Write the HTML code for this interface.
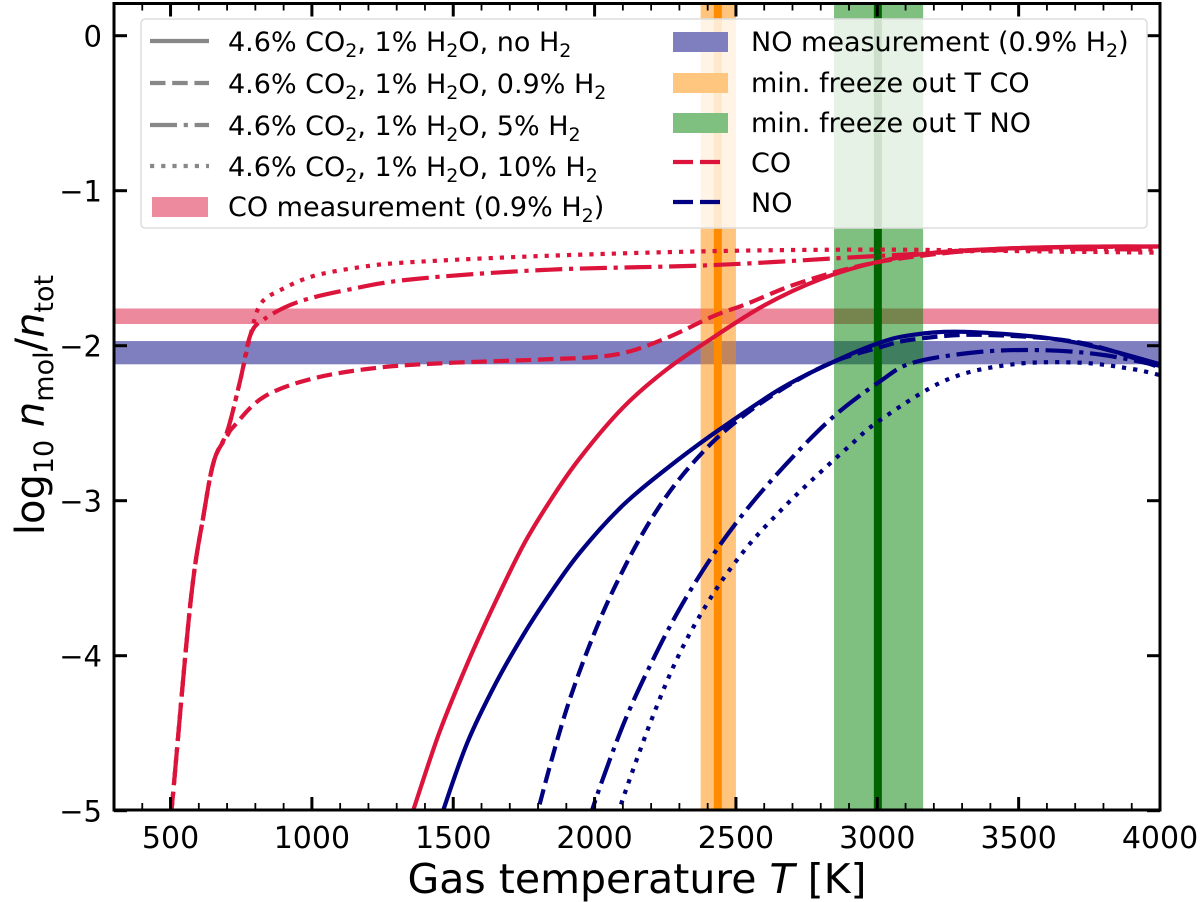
<!DOCTYPE html>
<html><head><meta charset="utf-8"><style>
body{margin:0;background:#fff;}
svg{display:block;font-family:"DejaVu Sans","Liberation Sans",sans-serif;}
</style></head><body>
<svg id="chart" width="1200" height="902" viewBox="0 0 1200 902">
<defs><clipPath id="plotclip"><rect x="114" y="3.5" width="1046" height="806.5"/></clipPath></defs>
<g id="bands" clip-path="url(#plotclip)"></g>
<g id="curves" clip-path="url(#plotclip)"></g>
<g id="axes"></g>
</svg>
<script>
// ---- data ----
const xTicks = [500,1000,1500,2000,2500,3000,3500,4000];
const yTicks = [0,-1,-2,-3,-4,-5];
const coMeas = [-1.86,-1.76];
const noMeas = [-2.12,-1.97];
const coFreezeBand = [2375,2500];
const coFreezeT = 2436;
const noFreezeBand = [2847,3162];
const noFreezeT = 3002;
// CO curves: [T, log10 n]
const coNoH2T = [1330,1358,1450,1550,1650,1750,1850,1950,2100,2250,2400,2600,2800,3000,3200,3500,3800,4000];
const coNoH2V = [-5.16,-5.0,-4.5,-4.05,-3.65,-3.28,-2.98,-2.72,-2.4,-2.16,-1.97,-1.74,-1.57,-1.46,-1.40,-1.37,-1.36,-1.36];
const co09T = [495,506,571,618,654,701,724,830,1007,1243,1500,1800,2065,2242,2419,2539,2716,2950,3200,3500,4000];
const co09V = [-5.1,-4.95,-3.65,-3.08,-2.74,-2.58,-2.52,-2.33,-2.21,-2.14,-2.11,-2.09,-2.06,-1.96,-1.81,-1.73,-1.60,-1.48,-1.41,-1.37,-1.36];
const co5T = [495,506,571,618,654,701,748,783,830,948,1125,1361,1832,2419,3010,3500,4000];
const co5V = [-5.1,-4.95,-3.65,-3.08,-2.74,-2.55,-2.21,-1.93,-1.83,-1.72,-1.64,-1.57,-1.51,-1.48,-1.42,-1.38,-1.38];
const co10T = [495,506,571,618,654,701,748,783,819,890,1007,1184,1361,1832,2419,3000,3500,4000];
const co10V = [-5.1,-4.95,-3.65,-3.08,-2.74,-2.55,-2.21,-1.93,-1.73,-1.64,-1.55,-1.49,-1.46,-1.42,-1.39,-1.38,-1.39,-1.40];
// NO curves
const noNoH2T = [1430,1464,1550,1650,1750,1850,1950,2100,2250,2419,2656,2850,3010,3126,3303,3600,3800,4000];
const noNoH2V = [-5.2,-5.0,-4.56,-4.18,-3.86,-3.58,-3.33,-3.03,-2.8,-2.57,-2.28,-2.10,-1.98,-1.93,-1.91,-1.95,-2.02,-2.12];
const no09T = [1795,1807,1900,2000,2100,2200,2300,2419,2550,2700,2850,3010,3126,3363,3717,4000];
const no09V = [-5.1,-4.95,-4.35,-3.85,-3.45,-3.12,-2.86,-2.62,-2.42,-2.24,-2.10,-2.01,-1.96,-1.93,-1.98,-2.14];
const no5T = [1985,1994,2100,2200,2300,2419,2550,2700,2850,3010,3126,3363,3600,3800,4000];
const no5V = [-5.1,-4.98,-4.45,-4.05,-3.7,-3.35,-3.03,-2.72,-2.45,-2.23,-2.11,-2.04,-2.03,-2.06,-2.13];
const no10T = [2080,2090,2200,2302,2420,2539,2660,2773,2900,3010,3246,3480,3717,3900,4000];
const no10V = [-5.1,-4.98,-4.42,-3.98,-3.6,-3.3,-3.06,-2.86,-2.65,-2.48,-2.22,-2.12,-2.11,-2.15,-2.19];

// ---- scales ----
const X0=114, X1=1160, Y0=35.7, YU=155;
function xs(t){return X0+(t-300)*(X1-X0)/3700;}
function ys(v){return Y0-v*YU;}
const NS='http://www.w3.org/2000/svg';
function mk(tag,attrs,parent){const e=document.createElementNS(NS,tag);for(const k in attrs)e.setAttribute(k,attrs[k]);parent.appendChild(e);return e;}

const bands=document.getElementById('bands');
let r;
r=mk('rect',{x:X0,y:ys(coMeas[1]),width:X1-X0,height:ys(coMeas[0])-ys(coMeas[1]),fill:'#dc143c','fill-opacity':0.5},bands);


r=mk('rect',{x:X0,y:ys(noMeas[1]),width:X1-X0,height:ys(noMeas[0])-ys(noMeas[1]),fill:'#000080','fill-opacity':0.5},bands);


r=mk('rect',{x:xs(coFreezeBand[0]),y:0,width:xs(coFreezeBand[1])-xs(coFreezeBand[0]),height:902,fill:'#ff8c00','fill-opacity':0.5},bands);


r=mk('rect',{x:xs(noFreezeBand[0]),y:0,width:xs(noFreezeBand[1])-xs(noFreezeBand[0]),height:902,fill:'#008000','fill-opacity':0.5},bands);


r=mk('line',{x1:xs(coFreezeT),x2:xs(coFreezeT),y1:0,y2:902,stroke:'#ff8c00','stroke-width':8},bands);


r=mk('line',{x1:xs(noFreezeT),x2:xs(noFreezeT),y1:0,y2:902,stroke:'#006400','stroke-width':8},bands);



const LW=4.2;
const DASH={solid:'',dashed:'15.5,6.7',dashdot:'27,6.7,4.2,6.7',dotted:'4.2,7'};
const curves=document.getElementById('curves');
function curve(T,V,color,style,name){
  const P=T.map((t,i)=>[xs(t),ys(V[i])]);
  let d='M'+P[0][0].toFixed(1)+','+P[0][1].toFixed(1);
  for(let i=0;i<P.length-1;i++){
    const p0=P[Math.max(0,i-1)],p1=P[i],p2=P[i+1],p3=P[Math.min(P.length-1,i+2)];
    const c1=[p1[0]+(p2[0]-p0[0])/6,p1[1]+(p2[1]-p0[1])/6];
    const c2=[p2[0]-(p3[0]-p1[0])/6,p2[1]-(p3[1]-p1[1])/6];
    d+='C'+c1[0].toFixed(1)+','+c1[1].toFixed(1)+' '+c2[0].toFixed(1)+','+c2[1].toFixed(1)+' '+p2[0].toFixed(1)+','+p2[1].toFixed(1);
  }
  const p=mk('path',{d:d,fill:'none',stroke:color,'stroke-width':LW,'stroke-linejoin':'round'},curves);
  if(DASH[style])p.setAttribute('stroke-dasharray',DASH[style]);
  
  
}
curve(coNoH2T,coNoH2V,'#dc143c','solid','co-curve-no-h2');
curve(co09T,co09V,'#dc143c','dashed','co-curve-0.9-h2');
curve(co5T,co5V,'#dc143c','dashdot','co-curve-5-h2');
curve(co10T,co10V,'#dc143c','dotted','co-curve-10-h2');
curve(noNoH2T,noNoH2V,'#000080','solid','no-curve-no-h2');
curve(no09T,no09V,'#000080','dashed','no-curve-0.9-h2');
curve(no5T,no5V,'#000080','dashdot','no-curve-5-h2');
curve(no10T,no10V,'#000080','dotted','no-curve-10-h2');

// ---- axes ----
const axes=document.getElementById('axes');
const YT=3.5, YB=810;
let e=mk('rect',{x:X0,y:YT,width:X1-X0,height:YB-YT,fill:'none',stroke:'#000','stroke-width':3},axes);


for(let t=400;t<=4000;t+=100){
  const major=xTicks.indexOf(t)>=0;const L=major?13:7;const x=xs(t);
  mk('line',{x1:x,x2:x,y1:YB,y2:YB-L,stroke:'#000','stroke-width':major?3:1.8},axes);
  mk('line',{x1:x,x2:x,y1:YT,y2:YT+L,stroke:'#000','stroke-width':major?3:1.8},axes);
}
xTicks.forEach(t=>{
  const tx=mk('text',{x:xs(t),y:848,'text-anchor':'middle','font-size':30,fill:'#000'},axes);
  tx.textContent=t;
  
  
});
yTicks.forEach(v=>{
  const y=ys(v);
  mk('line',{x1:X0,x2:X0+13,y1:y,y2:y,stroke:'#000','stroke-width':3},axes);
  mk('line',{x1:X1,x2:X1-13,y1:y,y2:y,stroke:'#000','stroke-width':3},axes);
  const tx=mk('text',{x:102,y:y+11,'text-anchor':'end','font-size':29,fill:'#000'},axes);
  tx.textContent=v<0?'\u2212'+(-v):String(v);
  
  
});
</script>
<svg style="position:absolute;left:0;top:0" width="1200" height="902" font-family="DejaVu Sans,Liberation Sans,sans-serif">
<text x="637" y="893" text-anchor="middle" font-size="41">Gas temperature <tspan font-style="italic">T</tspan> [K]</text>
<text transform="translate(44,405) rotate(-90)" text-anchor="middle" font-size="40">log<tspan font-size="27" dy="9">10</tspan><tspan dy="-9"> </tspan><tspan font-style="italic">n</tspan><tspan font-size="27" dy="9">mol</tspan><tspan dy="-9">/</tspan><tspan font-style="italic">n</tspan><tspan font-size="27" dy="9">tot</tspan></text>
<g>
<rect x="141" y="19" width="1006" height="209" rx="4" fill="#fff" fill-opacity="0.8" stroke="#ddd" stroke-width="1.5"/>
<g font-size="27" fill="#000">
<g><line x1="150" x2="209" y1="41" y2="41" stroke="#888" stroke-width="4.2"/><text x="228" y="51">4.6% CO<tspan font-size="19" dy="6">2</tspan><tspan dy="-6">, 1% H</tspan><tspan font-size="19" dy="6">2</tspan><tspan dy="-6">O, no H</tspan><tspan font-size="19" dy="6">2</tspan></text></g>
<g><line x1="150" x2="209" y1="83" y2="83" stroke="#888" stroke-width="4.2" stroke-dasharray="15.5,6.7"/><text x="228" y="93">4.6% CO<tspan font-size="19" dy="6">2</tspan><tspan dy="-6">, 1% H</tspan><tspan font-size="19" dy="6">2</tspan><tspan dy="-6">O, 0.9% H</tspan><tspan font-size="19" dy="6">2</tspan></text></g>
<g><line x1="150" x2="209" y1="125" y2="125" stroke="#888" stroke-width="4.2" stroke-dasharray="27,6.7,4.2,6.7"/><text x="228" y="135">4.6% CO<tspan font-size="19" dy="6">2</tspan><tspan dy="-6">, 1% H</tspan><tspan font-size="19" dy="6">2</tspan><tspan dy="-6">O, 5% H</tspan><tspan font-size="19" dy="6">2</tspan></text></g>
<g><line x1="150" x2="209" y1="166" y2="166" stroke="#888" stroke-width="4.2" stroke-dasharray="4.2,7"/><text x="228" y="176">4.6% CO<tspan font-size="19" dy="6">2</tspan><tspan dy="-6">, 1% H</tspan><tspan font-size="19" dy="6">2</tspan><tspan dy="-6">O, 10% H</tspan><tspan font-size="19" dy="6">2</tspan></text></g>
<g><rect x="152" y="197" width="56" height="20" fill="#ed8a9d"/><text x="228" y="216">CO measurement (0.9% H<tspan font-size="19" dy="6">2</tspan><tspan dy="-6">)</tspan></text></g>
<g><rect x="673" y="32" width="55" height="20" fill="#7f7fbf"/><text x="751" y="51">NO measurement (0.9% H<tspan font-size="19" dy="6">2</tspan><tspan dy="-6">)</tspan></text></g>
<g><rect x="673" y="73" width="55" height="20" fill="#ffc67f"/><text x="751" y="92">min. freeze out T CO</text></g>
<g><rect x="673" y="113" width="55" height="20" fill="#7fbf7f"/><text x="751" y="132">min. freeze out T NO</text></g>
<g><line x1="673" x2="727" y1="162" y2="162" stroke="#dc143c" stroke-width="4.2" stroke-dasharray="20,7"/><text x="751" y="172">CO</text></g>
<g><line x1="673" x2="727" y1="202" y2="202" stroke="#000080" stroke-width="4.2" stroke-dasharray="20,7"/><text x="751" y="212">NO</text></g>
</g>
</g>
</svg>
</body></html>
